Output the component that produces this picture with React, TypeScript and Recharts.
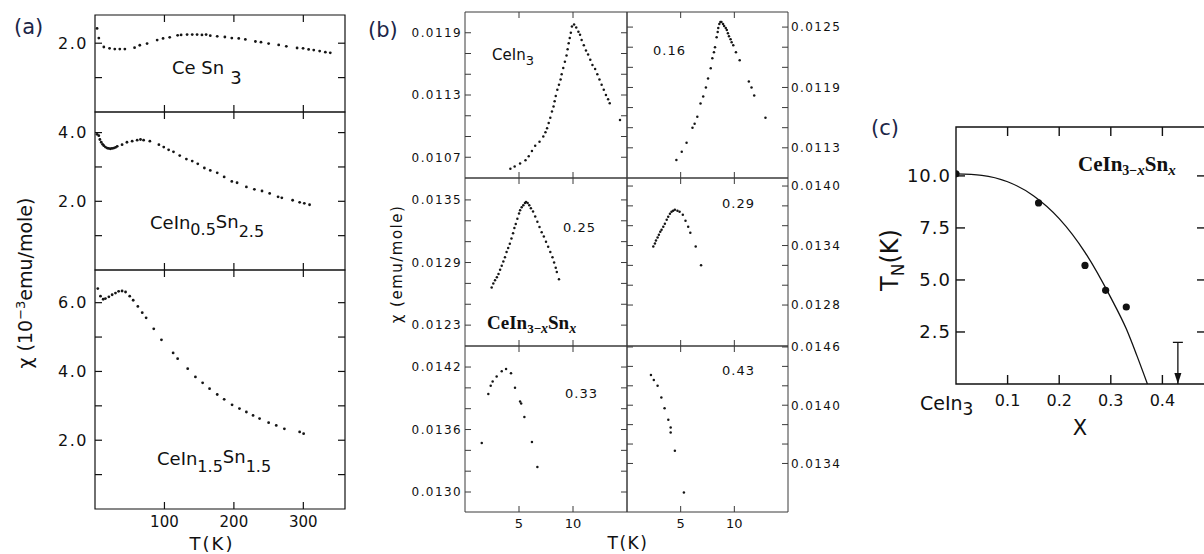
import React from 'react'
import { ComposedChart, Scatter, Line, XAxis, YAxis, ReferenceArea, ReferenceLine } from 'recharts'

type Pair = [number, number]

// (a) chi (1e-3 emu/mole) against T (K)
const ceSn3: Pair[] = [
  [3, 2.43], [5.5, 2.15], [12.7, 1.89], [21, 1.85], [28.5, 1.83], [35.7, 1.83], [43, 1.83],
  [57, 1.87], [64.5, 1.94], [75, 1.99], [89.5, 2.09], [98, 2.14], [107.6, 2.17], [119, 2.23],
  [124, 2.24], [132.6, 2.25], [140, 2.25], [147, 2.25], [154, 2.24], [160, 2.25], [166, 2.22],
  [176, 2.2], [187, 2.18], [197, 2.15], [207, 2.14], [216.5, 2.11], [231, 2.05], [239, 2.03],
  [250, 1.99], [264.5, 1.95], [275.5, 1.91], [291, 1.86], [299.6, 1.85], [307.6, 1.82],
  [315, 1.8], [323.5, 1.77], [331.7, 1.74], [338.8, 1.72],
]
const ceIn05Sn25: Pair[] = [
  [3, 3.95], [5.5, 3.91], [7, 3.8], [9, 3.72], [11, 3.66], [12.7, 3.62], [15, 3.58], [17.5, 3.55],
  [19.5, 3.54], [22, 3.53], [24.5, 3.54], [27, 3.55], [29.5, 3.57], [32, 3.6], [39, 3.65],
  [46, 3.72], [53.5, 3.75], [60.7, 3.78], [65.5, 3.8], [70, 3.78], [79, 3.75], [92, 3.65],
  [99, 3.58], [106, 3.5], [113, 3.44], [122, 3.33], [131.6, 3.23], [140, 3.17], [148, 3.09],
  [157.5, 2.97], [166, 2.9], [176, 2.83], [186, 2.71], [197, 2.58], [204.6, 2.54], [218, 2.42],
  [229.5, 2.35], [240.5, 2.3], [251.5, 2.23], [263.6, 2.13], [269, 2.1], [284.6, 2.03],
  [294.7, 1.97], [301.4, 1.94], [309, 1.9],
]
const ceIn15Sn15: Pair[] = [
  [4, 6.41], [7.9, 6.19], [11.8, 6.1], [15, 6.12], [20, 6.17], [24.7, 6.23], [29.5, 6.28],
  [34, 6.33], [39, 6.34], [44, 6.31], [50, 6.19], [55, 6.07], [61.7, 5.89], [68, 5.71],
  [73.6, 5.56], [84.6, 5.24], [95.7, 4.92], [112.5, 4.54], [119, 4.37], [133.5, 4.08],
  [144.6, 3.84], [155, 3.67], [165, 3.5], [176, 3.33], [186, 3.19], [197.4, 3.03], [208, 2.92],
  [218, 2.82], [227.6, 2.72], [237, 2.63], [250, 2.51], [261, 2.43], [272.7, 2.33],
  [294.7, 2.24], [300.4, 2.19],
]

// (b) chi (emu/mole) against T (K) for CeIn3-xSnx
const chiX000: Pair[] = [
  [4.2, 0.01059], [4.6, 0.01061], [5.1, 0.01064], [5.6, 0.01067], [5.9, 0.01071], [6.2, 0.01076],
  [6.5, 0.01081], [6.9, 0.01085], [7.25, 0.0109], [7.45, 0.01094], [7.6, 0.01098], [7.75, 0.01103],
  [7.9, 0.01108], [8.05, 0.01114], [8.2, 0.01119], [8.3, 0.01124], [8.4, 0.01129], [8.55, 0.01135],
  [8.7, 0.0114], [8.85, 0.01145], [8.95, 0.0115], [9.1, 0.01156], [9.25, 0.01162], [9.4, 0.01168],
  [9.5, 0.01174], [9.6, 0.0118], [9.7, 0.01185], [9.8, 0.0119], [9.9, 0.01196], [10.1, 0.01198],
  [10.3, 0.01195], [10.5, 0.01191], [10.65, 0.01188], [10.8, 0.01183], [11.0, 0.01178],
  [11.2, 0.01173], [11.4, 0.01169], [11.6, 0.01164], [11.8, 0.01159], [12.05, 0.01155],
  [12.25, 0.0115], [12.45, 0.01145], [12.65, 0.0114], [12.85, 0.01135], [13.05, 0.0113],
  [13.25, 0.01126], [13.4, 0.01122], [14.35, 0.01106],
]
const chiX016: Pair[] = [
  [4.6, 0.01118], [5.1, 0.01126], [5.55, 0.01135], [6.1, 0.0115], [6.3, 0.01154], [6.55, 0.01161],
  [6.85, 0.01174], [7.1, 0.01181], [7.35, 0.0119], [7.55, 0.01199], [7.8, 0.01209], [7.95, 0.01219],
  [8.1, 0.01225], [8.2, 0.0123], [8.35, 0.0124], [8.45, 0.01245], [8.5, 0.01249], [8.6, 0.01253],
  [8.7, 0.01255], [8.8, 0.01255], [8.95, 0.01253], [9.05, 0.01251], [9.2, 0.01249], [9.3, 0.01247],
  [9.4, 0.01244], [9.5, 0.01241], [9.65, 0.01238], [9.75, 0.01235], [9.9, 0.01232], [10.15, 0.01225],
  [10.5, 0.01217], [11.35, 0.01196], [11.6, 0.0119], [11.85, 0.01182], [12.9, 0.0116],
]
const chiX025: Pair[] = [
  [2.47, 0.01266], [2.62, 0.0127], [2.78, 0.01273], [2.95, 0.01276], [3.1, 0.01279], [3.25, 0.01283],
  [3.4, 0.01287], [3.55, 0.01291], [3.7, 0.01295], [3.85, 0.013], [4.0, 0.01304], [4.15, 0.01308],
  [4.3, 0.01313], [4.45, 0.01318], [4.57, 0.01323], [4.7, 0.01327], [4.85, 0.01332], [5.0, 0.01337],
  [5.1, 0.0134], [5.25, 0.01343], [5.4, 0.01345], [5.55, 0.01347], [5.65, 0.01348], [5.8, 0.01347],
  [5.95, 0.01345], [6.1, 0.01342], [6.3, 0.01339], [6.5, 0.01334], [6.7, 0.01329], [6.9, 0.01324],
  [7.1, 0.01319], [7.3, 0.01315], [7.5, 0.0131], [7.7, 0.01305], [7.9, 0.013], [8.1, 0.01295],
  [8.25, 0.0129], [8.4, 0.01285], [8.5, 0.01281], [8.7, 0.01274],
]
const chiX029: Pair[] = [
  [2.45, 0.01339], [2.6, 0.01342], [2.7, 0.01345], [2.85, 0.01348], [2.97, 0.01351], [3.1, 0.01354],
  [3.22, 0.01356], [3.38, 0.01359], [3.53, 0.01362], [3.7, 0.01366], [3.84, 0.01369], [4.0, 0.01372],
  [4.15, 0.01374], [4.3, 0.01375], [4.46, 0.01376], [4.7, 0.01375], [4.9, 0.01374], [5.2, 0.01371],
  [5.45, 0.01365], [5.7, 0.01359], [5.9, 0.01353], [6.4, 0.01339], [6.9, 0.0132],
]
const chiX033: Pair[] = [
  [1.55, 0.01347], [2.16, 0.01394], [2.38, 0.01402], [2.56, 0.01406], [2.93, 0.01411], [3.4, 0.01416],
  [3.8, 0.01418], [4.26, 0.01414], [4.63, 0.014], [5.1, 0.01387], [5.2, 0.01385], [5.5, 0.01372],
  [6.2, 0.01348], [6.7, 0.01324],
]
const chiX043: Pair[] = [
  [2.23, 0.01431], [2.5, 0.01426], [2.85, 0.0142], [3.2, 0.01408], [3.5, 0.01397], [3.85, 0.01385],
  [4.07, 0.01377], [4.07, 0.01372], [4.46, 0.01353], [5.3, 0.0131],
]

// (c) T_N (K) against x
const tnPoints: Pair[] = [[0, 10.1], [0.16, 8.7], [0.25, 5.7], [0.29, 4.5], [0.33, 3.7]]
const tnGuide: Pair[] = [
  [0, 10.1], [0.05, 10.03], [0.1, 9.72], [0.15, 9.05], [0.2, 7.95], [0.25, 6.33],
  [0.3, 4.15], [0.33, 2.65], [0.35, 1.4], [0.371, 0],
]
const tnLimit043: Pair[] = [[0.43, 2.0], [0.43, 0]]

// ticks
const tempTicksA = [100, 200, 300]
const tempTicksB = [5, 10]
const chiTicksA1 = [1, 2]
const chiTicksA2 = [1, 2, 3, 4]
const chiTicksA3 = [1, 2, 3, 4, 5, 6]
const chiTicksB1L = [0.0107, 0.0109, 0.0111, 0.0113, 0.0115, 0.0117, 0.0119]
const chiTicksB1R = [0.0113, 0.0115, 0.0117, 0.0119, 0.0121, 0.0123, 0.0125]
const chiTicksB2L = [0.0123, 0.0125, 0.0127, 0.0129, 0.0131, 0.0133, 0.0135]
const chiTicksB2R = [0.0128, 0.013, 0.0132, 0.0134, 0.0136, 0.0138, 0.014]
const chiTicksB3L = [0.013, 0.0132, 0.0134, 0.0136, 0.0138, 0.014, 0.0142]
const chiTicksB3R = [0.0134, 0.0136, 0.0138, 0.014, 0.0142, 0.0144, 0.0146]
const xTicksC = [0.1, 0.2, 0.3, 0.4]
const tnTicksC = [2.5, 5, 7.5, 10]

const INK = '#111'
const GREY = '#3a3a3a'
const SANS = '"DejaVu Sans", Verdana, sans-serif'
const SERIF = '"Liberation Serif", "DejaVu Serif", serif'

const PAD = 90
const PAD_T = 6
const PAD_B = 36

const toXY = (pts: Pair[]) => pts.map(([x, y]) => ({ x, y }))
const dot = (r: number, fill: string) => (s: any) => <circle cx={s.cx} cy={s.cy} r={r} fill={fill} />

interface FrameProps {
  left: number
  top: number
  w: number
  h: number
  xDomain: [number, number]
  yDomain: [number, number]
  xTicks: number[]
  yTicks: number[]
  xFmt?: (v: number) => string
  yFmt: (v: number, i: number) => string
  side?: 'left' | 'right'
  tickLen: number
  xGap: number
  yGap: number
  xFont: number
  yFont: number
  ySpacing?: number
  ink: string
  lw: number
  children: React.ReactNode
}

function Frame(p: FrameProps) {
  const right = p.side === 'right'
  const len = p.tickLen

  const yLabel = (t: any) => {
    const label = p.yFmt(t.payload.value, t.index)
    if (!label) return <g />
    return (
      <text x={t.x} y={t.y} dy="0.36em" textAnchor={right ? 'start' : 'end'} fontSize={p.yFont}
        fontFamily={SANS} letterSpacing={p.ySpacing ?? 0} fill={INK}>
        {label}
      </text>
    )
  }
  const xLabel = (t: any) => {
    const label = p.xFmt ? p.xFmt(t.payload.value) : ''
    if (!label) return <g />
    return (
      <text x={t.x} y={t.y} dy="0.36em" textAnchor="middle" fontSize={p.xFont} fontFamily={SANS} fill={INK}>
        {label}
      </text>
    )
  }

  // inward tick marks at both ends of a reference line spanning the plot
  const hMarks = (s: any) => {
    const a = Math.min(s.x1, s.x2)
    const b = Math.max(s.x1, s.x2)
    return (
      <g>
        <line x1={a} x2={a + len} y1={s.y1} y2={s.y1} stroke={p.ink} strokeWidth={p.lw} />
        <line x1={b - len} x2={b} y1={s.y1} y2={s.y1} stroke={p.ink} strokeWidth={p.lw} />
      </g>
    )
  }
  const vMarks = (s: any) => {
    const a = Math.min(s.y1, s.y2)
    const b = Math.max(s.y1, s.y2)
    return (
      <g>
        <line x1={s.x1} x2={s.x1} y1={a} y2={a + len} stroke={p.ink} strokeWidth={p.lw} />
        <line x1={s.x1} x2={s.x1} y1={b - len} y2={b} stroke={p.ink} strokeWidth={p.lw} />
      </g>
    )
  }

  return (
    <div style={{ position: 'absolute', left: p.left - PAD, top: p.top - PAD_T }}>
      <ComposedChart
        width={PAD * 2 + p.w}
        height={PAD_T + p.h + PAD_B}
        margin={{ top: PAD_T, right: right ? 0 : PAD, bottom: 0, left: right ? PAD : 0 }}
      >
        <XAxis type="number" dataKey="x" domain={p.xDomain} allowDataOverflow ticks={p.xTicks}
          interval={0} tickSize={0} tickMargin={p.xGap} axisLine={false} tickLine={false}
          height={PAD_B} tick={xLabel} />
        <YAxis type="number" dataKey="y" orientation={right ? 'right' : 'left'} width={PAD}
          domain={p.yDomain} allowDataOverflow ticks={p.yTicks} interval={0} tickSize={0}
          tickMargin={p.yGap} axisLine={false} tickLine={false} tick={yLabel} />
        {p.yTicks.map((v) => (
          <ReferenceLine key={`y${v}`} y={v} stroke={p.ink} shape={hMarks} />
        ))}
        {p.xTicks.map((v) => (
          <ReferenceLine key={`x${v}`} x={v} stroke={p.ink} shape={vMarks} />
        ))}
        <ReferenceArea x1={p.xDomain[0]} x2={p.xDomain[1]} y1={p.yDomain[0]} y2={p.yDomain[1]}
          fill="none" fillOpacity={0} stroke={p.ink} strokeWidth={p.lw} ifOverflow="visible" />
        {p.children}
      </ComposedChart>
    </div>
  )
}

const evenLabel = (v: number) => (v % 2 === 0 ? v.toFixed(1) : '')
const everyThird = (v: number, i: number) => (i % 3 === 0 ? v.toFixed(4) : '')

const panelA = {
  left: 95, w: 250, xDomain: [0, 360] as [number, number], xTicks: tempTicksA,
  yFmt: evenLabel, tickLen: 7, xGap: 13, yGap: 7, xFont: 15, yFont: 16, ySpacing: 1.5,
  ink: INK, lw: 1.2,
}
const panelB = {
  xDomain: [0, 15] as [number, number], xTicks: tempTicksB, yFmt: everyThird,
  tickLen: 6, xGap: 11, yGap: 3, xFont: 13, yFont: 12, ySpacing: 1.4, ink: GREY, lw: 1,
}
const colL = { left: 465, w: 162 }
const colR = { left: 627, w: 161, side: 'right' as const }

function Series({ pts, r }: { pts: Pair[]; r: number }) {
  return <Scatter data={toXY(pts)} isAnimationActive={false} shape={dot(r, '#151515')} />
}

function Labels() {
  const sans = { fontFamily: SANS, fill: INK }
  const serif = { fontFamily: SERIF, fill: INK, fontWeight: 700 }
  return (
    <svg width={1204} height={554} style={{ position: 'absolute', left: 0, top: 0, pointerEvents: 'none' }}>
      <text x={14} y={34} fontSize={21} fontFamily={SANS} fill="#1c2648">(a)</text>
      <text x={368} y={37} fontSize={21} fontFamily={SANS} fill="#1c2648">(b)</text>
      <text x={871} y={135} fontSize={21} fontFamily={SANS} fill="#1c2648">(c)</text>

      <text {...sans} transform="translate(32 283) rotate(-90)" textAnchor="middle" fontSize={19}>
        χ (10<tspan dy={-7} fontSize={13}>−3</tspan><tspan dy={7}>emu/mole)</tspan>
      </text>
      <text {...sans} x={212} y={550} textAnchor="middle" fontSize={18} letterSpacing={2}>T(K)</text>
      <text {...sans} x={172} y={74} fontSize={18}>Ce Sn<tspan dx={6} dy={10}>3</tspan></text>
      <text {...sans} x={150} y={229} fontSize={18}>
        CeIn<tspan dy={6} fontSize={16}>0.5</tspan><tspan dy={-7}>Sn</tspan>
        <tspan dy={9} fontSize={16}>2.5</tspan>
      </text>
      <text {...sans} x={157} y={465} fontSize={18}>
        CeIn<tspan dy={7} fontSize={16}>1.5</tspan><tspan dy={-9}>Sn</tspan>
        <tspan dy={9} fontSize={16}>1.5</tspan>
      </text>

      <text {...sans} transform="translate(402 264) rotate(-90)" textAnchor="middle" fontSize={15} letterSpacing={1.5}>
        χ (emu/mole)
      </text>
      <text {...sans} x={628} y={549} textAnchor="middle" fontSize={17} letterSpacing={1.5}>T(K)</text>
      <text {...sans} x={492} y={60} fontSize={15}>CeIn<tspan dy={5} fontSize={13}>3</tspan></text>
      <text {...sans} x={653} y={55} fontSize={13} letterSpacing={1}>0.16</text>
      <text {...sans} x={563} y={232} fontSize={13} letterSpacing={1}>0.25</text>
      <text {...sans} x={722} y={208} fontSize={13} letterSpacing={1}>0.29</text>
      <text {...sans} x={565} y={398} fontSize={13} letterSpacing={1}>0.33</text>
      <text {...sans} x={722} y={375} fontSize={13} letterSpacing={1}>0.43</text>
      <text {...serif} x={487} y={329} fontSize={19}>
        CeIn<tspan dy={4} fontSize={13}>3−</tspan><tspan fontSize={14} fontStyle="italic">x</tspan>
        <tspan dy={-4}>Sn</tspan><tspan dy={4} fontSize={14} fontStyle="italic">x</tspan>
      </text>

      <text {...serif} x={1078} y={171} fontSize={21}>
        CeIn<tspan dy={4} fontSize={14}>3−</tspan><tspan fontSize={15} fontStyle="italic">x</tspan>
        <tspan dy={-4}>Sn</tspan><tspan dy={4} fontSize={15} fontStyle="italic">x</tspan>
      </text>
      <text {...sans} transform="translate(898 260) rotate(-90)" textAnchor="middle" fontSize={24}>
        T<tspan dy={6} fontSize={17}>N</tspan><tspan dy={-6}>(K)</tspan>
      </text>
      <text {...sans} x={1080} y={435} textAnchor="middle" fontSize={21}>X</text>
      <text {...sans} x={920} y={410} fontSize={19}>CeIn<tspan dy={5} fontSize={17}>3</tspan></text>
    </svg>
  )
}

const arrowDot = (s: any) => {
  if (s.index === 0) {
    return <line key="cap" x1={s.cx - 5} x2={s.cx + 5} y1={s.cy} y2={s.cy} stroke={INK} strokeWidth={1.3} />
  }
  return (
    <polygon key="head" points={`${s.cx - 3.5},${s.cy - 11} ${s.cx + 3.5},${s.cy - 11} ${s.cx},${s.cy}`} fill={INK} />
  )
}

export default function App() {
  return (
    <div style={{ position: 'fixed', left: 0, top: 0, width: 1204, height: 554, overflow: 'hidden', background: '#fff' }}>
      {/* (a) */}
      <Frame {...panelA} top={15} h={97} yDomain={[0, 2.82]} yTicks={chiTicksA1}>
        <Series pts={ceSn3} r={1.4} />
      </Frame>
      <Frame {...panelA} top={112} h={158} yDomain={[0, 4.6]} yTicks={chiTicksA2}>
        <Series pts={ceIn05Sn25} r={1.4} />
      </Frame>
      <Frame {...panelA} top={270} h={239} yDomain={[0, 6.95]} yTicks={chiTicksA3} xFmt={(v) => String(v)}>
        <Series pts={ceIn15Sn15} r={1.4} />
      </Frame>

      {/* (b) */}
      <Frame {...panelB} {...colL} top={12} h={166} yDomain={[0.0105, 0.0121]} yTicks={chiTicksB1L}>
        <Series pts={chiX000} r={1.25} />
      </Frame>
      <Frame {...panelB} {...colR} top={12} h={166} yDomain={[0.011, 0.01265]} yTicks={chiTicksB1R}>
        <Series pts={chiX016} r={1.25} />
      </Frame>
      <Frame {...panelB} {...colL} top={178} h={168} yDomain={[0.0121, 0.01371]} yTicks={chiTicksB2L}>
        <Series pts={chiX025} r={1.25} />
      </Frame>
      <Frame {...panelB} {...colR} top={178} h={168} yDomain={[0.012387, 0.014081]} yTicks={chiTicksB2R}>
        <Series pts={chiX029} r={1.25} />
      </Frame>
      <Frame {...panelB} {...colL} top={346} h={166} yDomain={[0.012808, 0.014402]} yTicks={chiTicksB3L}
        xFmt={(v) => String(v)}>
        <Series pts={chiX033} r={1.25} />
      </Frame>
      <Frame {...panelB} {...colR} top={346} h={166} yDomain={[0.0129, 0.01461]} yTicks={chiTicksB3R}
        xFmt={(v) => String(v)}>
        <Series pts={chiX043} r={1.25} />
      </Frame>

      {/* (c) */}
      <Frame left={956} top={127} w={250} h={257} xDomain={[0, 0.4845]} yDomain={[0, 12.35]}
        xTicks={xTicksC} yTicks={tnTicksC} xFmt={(v) => v.toFixed(1)} yFmt={(v) => v.toFixed(1)}
        tickLen={9} xGap={16} yGap={5} xFont={16} yFont={18} ySpacing={1} ink={INK} lw={1.4}>
        <Line data={toXY(tnGuide)} dataKey="y" type="monotone" stroke={INK} strokeWidth={1.3}
          dot={false} isAnimationActive={false} />
        <Line data={toXY(tnLimit043)} dataKey="y" stroke={INK} strokeWidth={1.3}
          dot={arrowDot} isAnimationActive={false} />
        <Scatter data={toXY(tnPoints)} isAnimationActive={false} shape={dot(3.6, INK)} />
      </Frame>

      <Labels />
    </div>
  )
}
